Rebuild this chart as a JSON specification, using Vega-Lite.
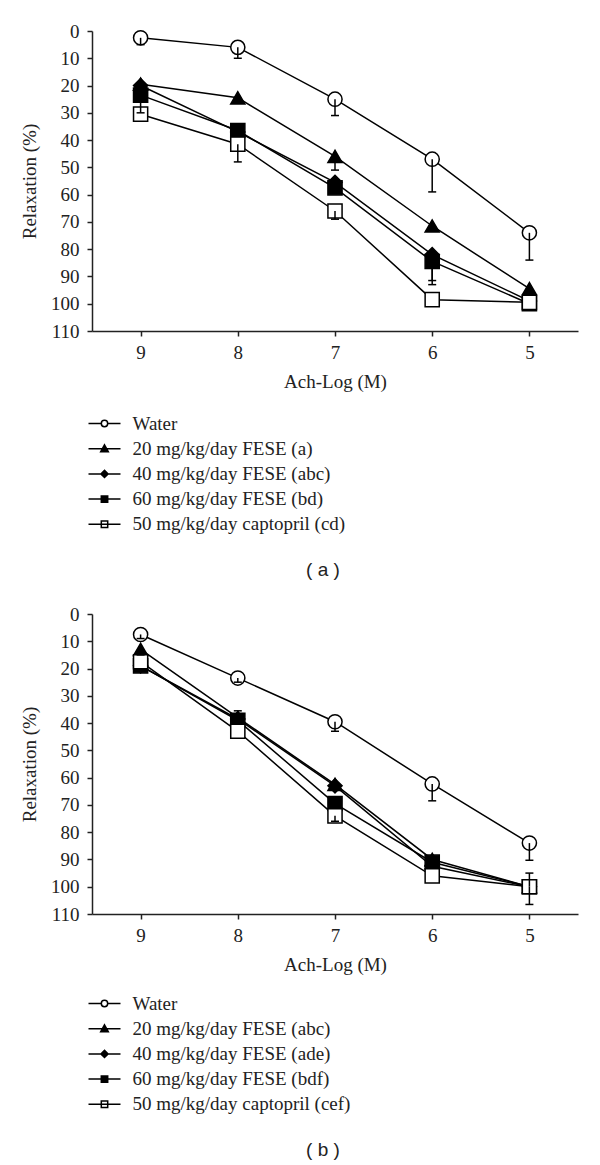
{
  "$schema": "https://vega.github.io/schema/vega-lite/v6.json",
  "background": "white",
  "padding": {"left": 20, "top": 22, "right": 5, "bottom": 3},
  "config": {
    "view": {"stroke": null},
    "axis": {"labelFont": "Liberation Serif", "labelFontSize": 19, "labelColor": "#222", "titleFont": "Liberation Serif", "titleFontSize": 19, "titleFontWeight": "normal", "titleColor": "#222", "domainColor": "#222", "domainWidth": 1.5, "tickColor": "#222", "tickWidth": 1.5, "tickSize": 5, "grid": false},
    "title": {"font": "Liberation Sans", "fontSize": 19, "fontWeight": "normal", "color": "#222"},
    "legend": {"title": null, "orient": "none", "legendX": 1.5, "symbolSize": 400, "labelFont": "Liberation Serif", "labelFontSize": 19, "labelColor": "#222", "labelOffset": 17, "labelLimit": 400, "rowPadding": 4.2, "symbolStrokeColor": "black", "symbolStrokeWidth": 1.5, "symbolOpacity": 1, "padding": 0}
  },
  "datasets": {
    "a": [
      {"series": "Water", "x": 9, "y": 2.5, "e": 5},
      {"series": "Water", "x": 8, "y": 6, "e": 10},
      {"series": "Water", "x": 7, "y": 25, "e": 31},
      {"series": "Water", "x": 6, "y": 47, "e": 59},
      {"series": "Water", "x": 5, "y": 74, "e": 84},
      {"series": "20 mg/kg/day FESE (a)", "x": 9, "y": 19.5, "e": null},
      {"series": "20 mg/kg/day FESE (a)", "x": 8, "y": 24.5, "e": null},
      {"series": "20 mg/kg/day FESE (a)", "x": 7, "y": 46, "e": 51},
      {"series": "20 mg/kg/day FESE (a)", "x": 6, "y": 71.5, "e": null},
      {"series": "20 mg/kg/day FESE (a)", "x": 5, "y": 94.5, "e": null},
      {"series": "40 mg/kg/day FESE (abc)", "x": 9, "y": 20, "e": null},
      {"series": "40 mg/kg/day FESE (abc)", "x": 8, "y": 37, "e": null},
      {"series": "40 mg/kg/day FESE (abc)", "x": 7, "y": 55.5, "e": null},
      {"series": "40 mg/kg/day FESE (abc)", "x": 6, "y": 82, "e": 93},
      {"series": "40 mg/kg/day FESE (abc)", "x": 5, "y": 99, "e": null},
      {"series": "60 mg/kg/day FESE (bd)", "x": 9, "y": 23.5, "e": 30},
      {"series": "60 mg/kg/day FESE (bd)", "x": 8, "y": 36.5, "e": null},
      {"series": "60 mg/kg/day FESE (bd)", "x": 7, "y": 57.5, "e": null},
      {"series": "60 mg/kg/day FESE (bd)", "x": 6, "y": 84.5, "e": 91.5},
      {"series": "60 mg/kg/day FESE (bd)", "x": 5, "y": 100, "e": null},
      {"series": "50 mg/kg/day captopril (cd)", "x": 9, "y": 30.5, "e": null},
      {"series": "50 mg/kg/day captopril (cd)", "x": 8, "y": 41.5, "e": 48},
      {"series": "50 mg/kg/day captopril (cd)", "x": 7, "y": 66, "e": 69},
      {"series": "50 mg/kg/day captopril (cd)", "x": 6, "y": 98.5, "e": null},
      {"series": "50 mg/kg/day captopril (cd)", "x": 5, "y": 99.5, "e": null}
    ],
    "b": [
      {"series": "Water", "x": 9, "y": 7.5, "e": 9},
      {"series": "Water", "x": 8, "y": 23.5, "e": 25},
      {"series": "Water", "x": 7, "y": 39.5, "e": 43},
      {"series": "Water", "x": 6, "y": 62.3, "e": 68.5},
      {"series": "Water", "x": 5, "y": 84, "e": 90.3},
      {"series": "20 mg/kg/day FESE (abc)", "x": 9, "y": 13, "e": 15},
      {"series": "20 mg/kg/day FESE (abc)", "x": 8, "y": 38, "e": 35.5},
      {"series": "20 mg/kg/day FESE (abc)", "x": 7, "y": 62.5, "e": null},
      {"series": "20 mg/kg/day FESE (abc)", "x": 6, "y": 90, "e": null},
      {"series": "20 mg/kg/day FESE (abc)", "x": 5, "y": 100, "e": null},
      {"series": "40 mg/kg/day FESE (ade)", "x": 9, "y": 19, "e": null},
      {"series": "40 mg/kg/day FESE (ade)", "x": 8, "y": 38.5, "e": null},
      {"series": "40 mg/kg/day FESE (ade)", "x": 7, "y": 63, "e": null},
      {"series": "40 mg/kg/day FESE (ade)", "x": 6, "y": 92.5, "e": null},
      {"series": "40 mg/kg/day FESE (ade)", "x": 5, "y": 100, "e": null},
      {"series": "60 mg/kg/day FESE (bdf)", "x": 9, "y": 19, "e": null},
      {"series": "60 mg/kg/day FESE (bdf)", "x": 8, "y": 39, "e": null},
      {"series": "60 mg/kg/day FESE (bdf)", "x": 7, "y": 69.5, "e": null},
      {"series": "60 mg/kg/day FESE (bdf)", "x": 6, "y": 91, "e": null},
      {"series": "60 mg/kg/day FESE (bdf)", "x": 5, "y": 100, "e": 106.5},
      {"series": "50 mg/kg/day captopril (cef)", "x": 9, "y": 17.5, "e": null},
      {"series": "50 mg/kg/day captopril (cef)", "x": 8, "y": 43, "e": null},
      {"series": "50 mg/kg/day captopril (cef)", "x": 7, "y": 74, "e": 76},
      {"series": "50 mg/kg/day captopril (cef)", "x": 6, "y": 96, "e": null},
      {"series": "50 mg/kg/day captopril (cef)", "x": 5, "y": 100, "e": 95}
    ]
  },
  "spacing": 25,
  "resolve": {"scale": {"shape": "independent", "fill": "independent", "x": "independent", "y": "independent"}},
  "vconcat": [
    {
      "width": 486, "height": 300,
      "data": {"name": "a"},
      "title": {"text": "( a )", "orient": "bottom", "offset": 26, "frame": "group", "dx": -12},
      "encoding": {
        "x": {"field": "x", "type": "quantitative", "scale": {"domain": [4.5, 9.5], "reverse": true, "nice": false, "zero": false}, "axis": {"values": [9, 8, 7, 6, 5], "title": "Ach-Log (M)", "labelPadding": 7, "titlePadding": 10}},
        "y": {"field": "y", "type": "quantitative", "scale": {"domain": [0, 110], "reverse": true, "nice": false, "zero": false}, "axis": {"values": [0, 10, 20, 30, 40, 50, 60, 70, 80, 90, 100, 110], "title": "Relaxation (%)", "labelPadding": 8, "titlePadding": 11}}
      },
      "layer": [
        {"mark": {"type": "line", "color": "black", "strokeWidth": 1.5}, "encoding": {"detail": {"field": "series"}}},
        {"mark": {"type": "point", "filled": true, "opacity": 1, "stroke": "black", "strokeWidth": 1.5, "size": 200},
         "encoding": {
           "shape": {"field": "series", "type": "nominal", "legend": null, "scale": {"domain": ["Water", "20 mg/kg/day FESE (a)", "40 mg/kg/day FESE (abc)", "60 mg/kg/day FESE (bd)", "50 mg/kg/day captopril (cd)"], "range": ["circle", "triangle-up", "diamond", "square", "square"]}},
           "fill": {"field": "series", "type": "nominal", "legend": null, "scale": {"domain": ["Water", "20 mg/kg/day FESE (a)", "40 mg/kg/day FESE (abc)", "60 mg/kg/day FESE (bd)", "50 mg/kg/day captopril (cd)"], "range": ["white", "black", "black", "black", "white"]}}
         }},
        {"transform": [{"filter": "datum.e != null"}], "mark": {"type": "rule", "color": "black", "strokeWidth": 1.5}, "encoding": {"y2": {"field": "e"}}},
        {"transform": [{"filter": "datum.e != null"}], "mark": {"type": "tick", "orient": "horizontal", "color": "black", "thickness": 1.5, "size": 8, "opacity": 1}, "encoding": {"y": {"field": "e", "type": "quantitative"}}},
        {"mark": {"type": "point", "filled": true, "opacity": 0, "stroke": "black", "strokeWidth": 1.5},
         "encoding": {
           "shape": {"field": "series", "type": "nominal",
             "scale": {"domain": ["Water", "20 mg/kg/day FESE (a)", "40 mg/kg/day FESE (abc)", "60 mg/kg/day FESE (bd)", "50 mg/kg/day captopril (cd)"],
               "range": ["M-1.6,0L-0.32,0M0.32,0L1.6,0M0.32,0A0.32,0.32,0,1,1,-0.32,0A0.32,0.32,0,1,1,0.32,0Z", "M-1.6,0L1.6,0M0,-0.38L0.38,0.3L-0.38,0.3Z", "M-1.6,0L1.6,0M0,-0.36L0.36,0L0,0.36L-0.36,0Z", "M-1.6,0L1.6,0M-0.32,-0.32L0.32,-0.32L0.32,0.32L-0.32,0.32Z", "M-1.6,0L1.6,0M-0.32,-0.32L0.32,-0.32L0.32,0.32L-0.32,0.32Z"]},
             "legend": {"legendY": 381.5, "encode": {"symbols": {"update": {"stroke": {"value": "black"}, "strokeWidth": {"value": 1.5}, "opacity": {"value": 1}}}}}},
           "fill": {"field": "series", "type": "nominal",
             "scale": {"domain": ["Water", "20 mg/kg/day FESE (a)", "40 mg/kg/day FESE (abc)", "60 mg/kg/day FESE (bd)", "50 mg/kg/day captopril (cd)"], "range": ["white", "black", "black", "black", "white"]},
             "legend": {"legendY": 381.5, "encode": {"symbols": {"update": {"stroke": {"value": "black"}, "strokeWidth": {"value": 1.5}, "opacity": {"value": 1}}}}}}
         }}
      ],
      "resolve": {"scale": {"shape": "independent", "fill": "independent"}}
    },
    {
      "width": 486, "height": 300,
      "data": {"name": "b"},
      "title": {"text": "( b )", "orient": "bottom", "offset": 26, "frame": "group", "dx": -12},
      "encoding": {
        "x": {"field": "x", "type": "quantitative", "scale": {"domain": [4.5, 9.5], "reverse": true, "nice": false, "zero": false}, "axis": {"values": [9, 8, 7, 6, 5], "title": "Ach-Log (M)", "labelPadding": 7, "titlePadding": 10}},
        "y": {"field": "y", "type": "quantitative", "scale": {"domain": [0, 110], "reverse": true, "nice": false, "zero": false}, "axis": {"values": [0, 10, 20, 30, 40, 50, 60, 70, 80, 90, 100, 110], "title": "Relaxation (%)", "labelPadding": 8, "titlePadding": 11}}
      },
      "layer": [
        {"mark": {"type": "line", "color": "black", "strokeWidth": 1.5}, "encoding": {"detail": {"field": "series"}}},
        {"mark": {"type": "point", "filled": true, "opacity": 1, "stroke": "black", "strokeWidth": 1.5, "size": 200},
         "encoding": {
           "shape": {"field": "series", "type": "nominal", "legend": null, "scale": {"domain": ["Water", "20 mg/kg/day FESE (abc)", "40 mg/kg/day FESE (ade)", "60 mg/kg/day FESE (bdf)", "50 mg/kg/day captopril (cef)"], "range": ["circle", "triangle-up", "diamond", "square", "square"]}},
           "fill": {"field": "series", "type": "nominal", "legend": null, "scale": {"domain": ["Water", "20 mg/kg/day FESE (abc)", "40 mg/kg/day FESE (ade)", "60 mg/kg/day FESE (bdf)", "50 mg/kg/day captopril (cef)"], "range": ["white", "black", "black", "black", "white"]}}
         }},
        {"transform": [{"filter": "datum.e != null"}], "mark": {"type": "rule", "color": "black", "strokeWidth": 1.5}, "encoding": {"y2": {"field": "e"}}},
        {"transform": [{"filter": "datum.e != null"}], "mark": {"type": "tick", "orient": "horizontal", "color": "black", "thickness": 1.5, "size": 8, "opacity": 1}, "encoding": {"y": {"field": "e", "type": "quantitative"}}},
        {"mark": {"type": "point", "filled": true, "opacity": 0, "stroke": "black", "strokeWidth": 1.5},
         "encoding": {
           "shape": {"field": "series", "type": "nominal",
             "scale": {"domain": ["Water", "20 mg/kg/day FESE (abc)", "40 mg/kg/day FESE (ade)", "60 mg/kg/day FESE (bdf)", "50 mg/kg/day captopril (cef)"],
               "range": ["M-1.6,0L-0.32,0M0.32,0L1.6,0M0.32,0A0.32,0.32,0,1,1,-0.32,0A0.32,0.32,0,1,1,0.32,0Z", "M-1.6,0L1.6,0M0,-0.38L0.38,0.3L-0.38,0.3Z", "M-1.6,0L1.6,0M0,-0.36L0.36,0L0,0.36L-0.36,0Z", "M-1.6,0L1.6,0M-0.32,-0.32L0.32,-0.32L0.32,0.32L-0.32,0.32Z", "M-1.6,0L1.6,0M-0.32,-0.32L0.32,-0.32L0.32,0.32L-0.32,0.32Z"]},
             "legend": {"legendY": 378.5, "encode": {"symbols": {"update": {"stroke": {"value": "black"}, "strokeWidth": {"value": 1.5}, "opacity": {"value": 1}}}}}},
           "fill": {"field": "series", "type": "nominal",
             "scale": {"domain": ["Water", "20 mg/kg/day FESE (abc)", "40 mg/kg/day FESE (ade)", "60 mg/kg/day FESE (bdf)", "50 mg/kg/day captopril (cef)"], "range": ["white", "black", "black", "black", "white"]},
             "legend": {"legendY": 378.5, "encode": {"symbols": {"update": {"stroke": {"value": "black"}, "strokeWidth": {"value": 1.5}, "opacity": {"value": 1}}}}}}
         }}
      ],
      "resolve": {"scale": {"shape": "independent", "fill": "independent"}}
    }
  ]
}
